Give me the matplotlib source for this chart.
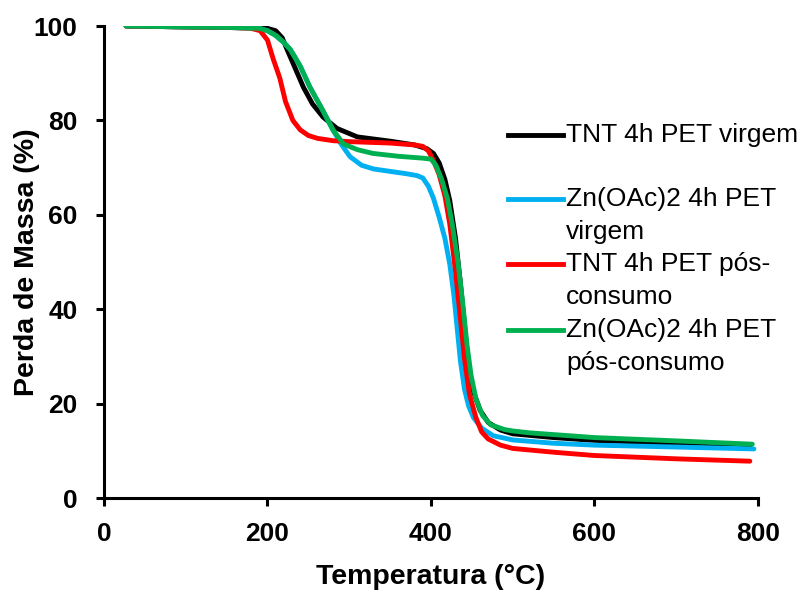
import numpy as np
import matplotlib.pyplot as plt
from matplotlib.lines import Line2D

plt.rcParams['font.family'] = ['Liberation Sans', 'DejaVu Sans']

# TNT 4h PET virgem
t_tnt_v = [27, 100, 150, 190, 200, 210, 218, 224, 234, 244, 255, 268, 285, 310, 350, 380, 395,
           403, 410, 417, 423, 430, 436, 441, 446, 452, 460, 470, 485, 500, 550, 600, 700, 790]
m_tnt_v = [100, 99.8, 99.7, 99.7, 99.5, 99, 97.5, 95, 91, 87, 83.5, 80.7, 78.3, 76.5, 75.6, 74.8, 74,
           73, 71, 67.5, 63, 55, 45.5, 36.5, 28, 22.5, 18.6, 16, 14.4, 13.6, 12.8, 12.2, 11.6, 11]

# Zn(OAc)2 4h PET virgem
t_zn_v = [27, 100, 150, 190, 200, 210, 220, 228, 240, 252, 260, 268, 280, 290, 301, 315, 330, 350,
          370, 383, 390, 397, 403, 410, 417, 423, 428, 432, 436, 441, 446, 452, 462, 476, 500, 550,
          600, 700, 795]
m_zn_v = [100, 99.8, 99.7, 99.5, 99, 98, 96.5, 95, 91.5, 87, 84.5, 82, 78, 75, 72.3, 70.5, 69.7, 69.2,
          68.7, 68.3, 67.8, 66, 63.5, 59.5, 55, 49.5, 43, 36, 29, 23, 19.5, 17, 14.8, 13.2, 12.3, 11.6,
          11.2, 10.8, 10.4]

# TNT 4h PET pos-consumo
t_tnt_p = [27, 100, 150, 180, 191, 200, 207, 215, 222, 231, 240, 250, 261, 280, 300, 350, 380, 390,
           397, 403, 410, 417, 423, 430, 436, 441, 447, 455, 462, 470, 485, 500, 550, 600, 700, 790]
m_tnt_p = [100, 99.8, 99.7, 99.5, 99, 97, 93, 89, 84, 80, 78, 76.8, 76.2, 75.7, 75.5, 75.2, 74.8, 74.5,
           73.5, 71.5, 68.5, 64, 58, 48, 38, 29.5, 22, 17, 14, 12.5, 11.2, 10.5, 9.7, 9, 8.3, 7.8]

# Zn(OAc)2 4h PET pos-consumo
t_zn_p = [27, 100, 150, 190, 200, 210, 220, 228, 240, 252, 260, 268, 280, 293, 310, 329, 360, 390,
          400, 406, 413, 420, 426, 433, 439, 444, 449, 455, 463, 473, 490, 500, 521, 600, 700, 793]
m_zn_p = [100, 99.8, 99.7, 99.5, 99, 98, 96.5, 95, 91.5, 87, 84.5, 82, 78, 75, 73.8, 73, 72.4, 72,
          71.8, 70.5, 67.5, 63.5, 58, 50, 41, 32.5, 26, 21, 17.5, 15.5, 14.5, 14.2, 13.8, 12.8, 12.1, 11.4]

series = [
    (t_tnt_v, m_tnt_v, '#000000', 'TNT 4h PET virgem'),
    (t_zn_v, m_zn_v, '#00B0F0', 'Zn(OAc)2 4h PET\nvirgem'),
    (t_tnt_p, m_tnt_p, '#FF0000', 'TNT 4h PET pós-\nconsumo'),
    (t_zn_p, m_zn_p, '#00B050', 'Zn(OAc)2 4h PET\npós-consumo'),
]

fig = plt.figure(figsize=(8.03, 5.90), dpi=100)
ax = fig.add_axes([104 / 803, 1 - 498 / 590, 654 / 803, 472 / 590])

for t, m, c, lab in series:
    ax.plot(t, m, color=c, lw=3.5, solid_capstyle='round', solid_joinstyle='round')

ax.set_xlim(0, 800)
ax.set_ylim(0, 100)
ax.set_xticks([0, 200, 400, 600, 800])
ax.set_yticks([0, 20, 40, 60, 80, 100])
for s in ['top', 'right']:
    ax.spines[s].set_visible(False)
for s in ['left', 'bottom']:
    ax.spines[s].set_linewidth(2.2)
ax.tick_params(direction='out', length=6, width=2.2, labelsize=19)
ax.tick_params(axis='y', pad=13)
ax.tick_params(axis='x', pad=11)
for lbl in ax.get_xticklabels() + ax.get_yticklabels():
    lbl.set_fontweight('bold')
ax.set_xlabel('Temperatura (°C)', fontsize=20.5, fontweight='bold')
ax.set_ylabel('Perda de Massa (%)', fontsize=20.5, fontweight='bold')
ax.xaxis.set_label_coords(0.5, -0.14)
ax.yaxis.set_label_coords(-0.098, 0.5)

# legend drawn by hand (Excel style: handle on the first text line)
ys = [135, 199, 264, 330]
line_gap = 33
for (t, m, c, lab), yp in zip(series, ys):
    fig.add_artist(Line2D([508 / 803, 563 / 803], [1 - yp / 590] * 2, color=c, lw=3.5,
                          transform=fig.transFigure))
    for i, part in enumerate(lab.split('\n')):
        fig.text(566 / 803, 1 - (yp + i * line_gap) / 590, part, fontsize=19,
                 va='center', ha='left')

fig.savefig('out.png', dpi=100)
